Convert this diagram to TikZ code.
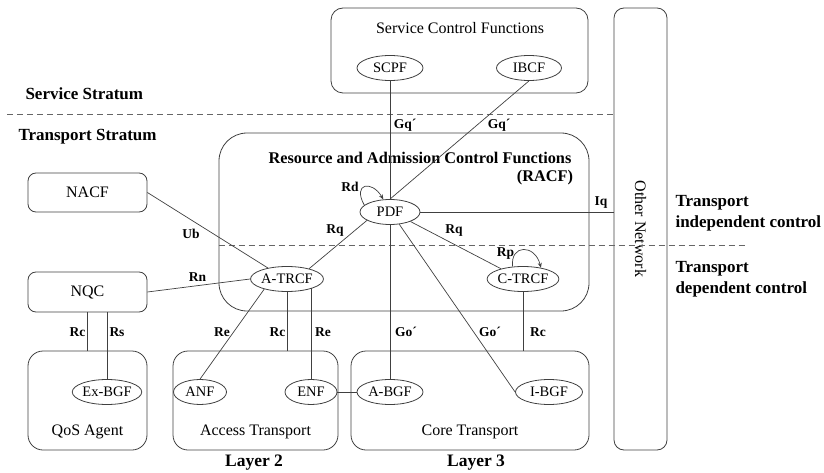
\documentclass[tikz,border=0pt]{standalone}
\usepackage{fontspec}
\setmainfont{Liberation Serif}
\usetikzlibrary{shapes.geometric,arrows.meta}
\begin{document}
\begin{tikzpicture}[x=1pt,y=-1pt,
  box/.style={draw=black!75, line width=0.8pt, inner sep=0pt},
  fe/.style={draw=black!75, line width=0.8pt, ellipse, inner sep=0pt, minimum width=66pt, minimum height=25pt, font=\fontsize{14.5}{16}\selectfont},
  txt/.style={font=\fontsize{16}{18}\selectfont},
  lbl/.style={font=\bfseries\fontsize{13.5}{15}\selectfont, inner sep=1pt},
  big/.style={font=\bfseries\fontsize{17}{21}\selectfont, align=left, anchor=west},
  link/.style={draw=black!75, line width=0.7pt},
  loopy/.style={link, -{Stealth[length=5pt,width=4pt]}},
  stratum/.style={draw=black!60, line width=0.8pt, dash pattern=on 6pt off 4pt}]
  \useasboundingbox (0,0) rectangle (824,473);

  % boxes
  \node[box, rounded corners=12pt, minimum width=257pt, minimum height=85pt] (SCF) at (459.5,50.5) {};
  \node[box, rounded corners=10pt, minimum width=53pt, minimum height=442pt] (ON) at (640.5,229) {};
  \node[box, rounded corners=28pt, minimum width=370pt, minimum height=178pt] (RACF) at (404,222) {};
  \node[box, rounded corners=8pt, minimum width=119pt, minimum height=39pt] (NACF) at (87.5,192.5) {};
  \node[box, rounded corners=8pt, minimum width=119pt, minimum height=40pt] (NQC) at (87.5,292) {};
  \node[box, rounded corners=15pt, minimum width=119pt, minimum height=99pt] (QoS) at (87.5,400.5) {};
  \node[box, rounded corners=15pt, minimum width=165pt, minimum height=99pt] (Access) at (255.5,400.5) {};
  \node[box, rounded corners=15pt, minimum width=238pt, minimum height=99pt] (Core) at (470,400.5) {};

  % box texts
  \node[txt] (SCFt) at (460,28) {Service Control Functions};
  \node[txt, rotate=-90] (ONt) at (640.5,229) {Other Network};
  \node[font=\bfseries\fontsize{16.3}{19}\selectfont] (RACFt) at (420,158) {Resource and Admission Control Functions};
  \node[font=\bfseries\fontsize{16.3}{19}\selectfont] (RACFs) at (545,178) {(RACF)};
  \node[txt] (NACFt) at (NACF) {NACF};
  \node[txt] (NQCt) at (NQC) {NQC};
  \node[txt] (QoSt) at (87.5,432) {QoS Agent};
  \node[txt] (Accesst) at (255.5,432) {Access Transport};
  \node[txt] (Coret) at (470,432) {Core Transport};

  % functional entities
  \node[fe] (SCPF) at (390,68) {SCPF};
  \node[fe, minimum width=65pt] (IBCF) at (529,68) {IBCF};
  \node[fe, minimum width=60pt] (PDF) at (390,212) {PDF};
  \node[fe, minimum width=67pt] (ATRCF) at (287,279) {A-TRCF};
  \node[fe, minimum width=67pt] (CTRCF) at (523,279) {C-TRCF};
  \node[fe, minimum width=67pt] (ExBGF) at (107,392) {Ex-BGF};
  \node[fe, minimum width=53pt] (ANF) at (200,392) {ANF};
  \node[fe, minimum width=52pt] (ENF) at (311,392) {ENF};
  \node[fe] (ABGF) at (390,392) {A-BGF};
  \node[fe, minimum width=67pt] (IBGF) at (549,392) {I-BGF};

  % strata
  \draw[stratum] (7,114) -- (ON.west |- 0,114);
  \draw[stratum] (RACF.west |- 0,245) -- (745,245);
  \node[big] (svc) at (22,94) {Service Stratum};
  \node[big] (trp) at (15,137) {Transport Stratum};
  \node[big] (indep) at (672,213) {Transport\\independent control};
  \node[big] (dep) at (672,279.5) {Transport\\dependent control};
  \node[font=\bfseries\fontsize{17.5}{20}\selectfont] (L2) at (254,463) {Layer 2};
  \node[font=\bfseries\fontsize{17.5}{20}\selectfont] (L3) at (476,463) {Layer 3};

  % reference points
  \draw[link] (SCPF) -- (PDF);
  \draw[link] (IBCF.south) -- (PDF.north);
  \draw[link] (NACF.east) -- (ATRCF.150);
  \draw[link] (PDF.200) -- (ATRCF.25);
  \draw[link] (PDF.335) -- (CTRCF.155);
  \draw[link] (PDF.east) -- (PDF.east -| ON.west);
  \draw[loopy] (PDF.165) .. controls (352,183) and (372,180) .. (PDF.118);
  \draw[loopy] (CTRCF.130) .. controls (510,244) and (535,244) .. (CTRCF.32);
  \draw[link] (NQC.east) -- (ATRCF.west);
  \draw[link] (NQC.south) -- (NQC.south |- QoS.north);
  \draw[link] (ExBGF.north |- NQC.south) -- (ExBGF.north);
  \draw[link] (ATRCF.204) -- (ANF.north);
  \draw[link] (ATRCF.south) -- (ATRCF.south |- Access.north);
  \draw[link] (ATRCF.-20 -| ENF.north) -- (ENF.north);
  \draw[link] (ENF.east) -- (ABGF.west);
  \draw[link] (PDF.south) -- (ABGF.north);
  \draw[link] (PDF.-53) -- (IBGF.west);
  \draw[link] (CTRCF.south) -- (CTRCF.south |- Core.north);

  % interface names
  \node[lbl] (lGq1) at (405,125) {Gq´};
  \node[lbl] (lGq2) at (499,125) {Gq´};
  \node[lbl] (lIq) at (601,203) {Iq};
  \node[lbl] (lRd) at (350,187) {Rd};
  \node[lbl] (lRp) at (505.5,254) {Rp};
  \node[lbl] (lUb) at (191,234) {Ub};
  \node[lbl] (lRq1) at (335,231) {Rq};
  \node[lbl] (lRq2) at (454,231) {Rq};
  \node[lbl] (lRn) at (197.5,277) {Rn};
  \node[lbl] (lRc1) at (77.5,332) {Rc};
  \node[lbl] (lRs) at (117,332) {Rs};
  \node[lbl] (lRe1) at (222,332) {Re};
  \node[lbl] (lRc2) at (277.5,332) {Rc};
  \node[lbl] (lRe2) at (323,332) {Re};
  \node[lbl] (lGo1) at (406,332) {Go´};
  \node[lbl] (lGo2) at (490,332) {Go´};
  \node[lbl] (lRc3) at (538,332) {Rc};
\end{tikzpicture}
\end{document}
